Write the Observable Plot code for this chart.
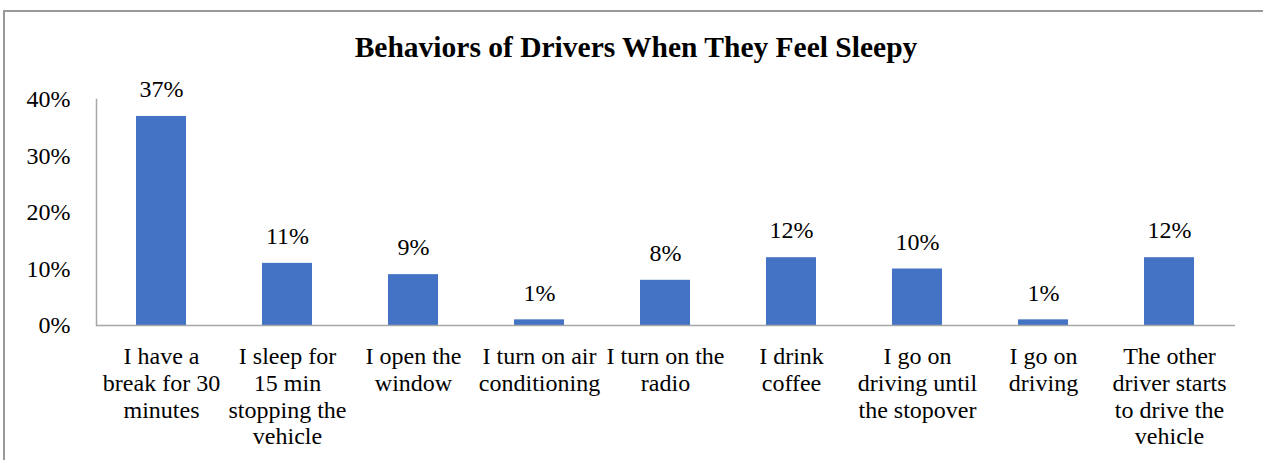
<!DOCTYPE html>
<html>
<head>
<meta charset="utf-8">
<script src="https://cdn.jsdelivr.net/npm/d3@7"></script>
<script src="https://cdn.jsdelivr.net/npm/@observablehq/plot@0.6"></script>
<style>
  html, body { margin: 0; padding: 0; background: #fff; }
  #wrap { position: relative; width: 1263px; height: 460px; overflow: hidden; }
  #border { position: absolute; left: 3px; top: 10px; width: 1400px; height: 600px;
            border-left: 2px solid #999; border-top: 2px solid #999; }
  #title { position: absolute; left: 0; width: 1272px; top: 31px; text-align: center;
           font-family: "Liberation Serif", serif; font-weight: bold; font-size: 29.5px; color: #000; }
  #chart { position: absolute; left: 0; top: 0; }
</style>
</head>
<body>
<div id="wrap">
  <div id="border"></div>
  <div id="chart"></div>
  <div id="title">Behaviors of Drivers When They Feel Sleepy</div>
</div>
<script>
const categories = [
  "I have a\nbreak for 30\nminutes",
  "I sleep for\n15 min\nstopping the\nvehicle",
  "I open the\nwindow",
  "I turn on air\nconditioning",
  "I turn on the\nradio",
  "I drink\ncoffee",
  "I go on\ndriving until\nthe stopover",
  "I go on\ndriving",
  "The other\ndriver starts\nto drive the\nvehicle"
];
const values = [0.37, 0.11, 0.09, 0.01, 0.08, 0.12, 0.10, 0.01, 0.12];
const yTicks = [0, 0.1, 0.2, 0.3, 0.4];

const data = categories.map((c, i) => ({category: c, value: values[i]}));
const pct = d3.format(".0%");
const serif = "Liberation Serif";

const chart = Plot.plot({
  width: 1263,
  height: 460,
  marginLeft: 96,
  marginRight: 28,
  marginTop: 99,
  marginBottom: 135,
  style: {fontSize: "24px", color: "#000", background: "transparent"},
  x: {domain: categories, paddingInner: 0.6, paddingOuter: 0.3, axis: null},
  y: {domain: [0, 0.4], axis: null},
  marks: [
    Plot.barY(data, {x: "category", y: "value", fill: "#4472C4"}),
    Plot.ruleY([0], {stroke: "#A6A6A6", strokeWidth: 1.5}),
    Plot.frame({anchor: "left", stroke: "#A6A6A6", strokeWidth: 1.5}),
    Plot.axisY({ticks: yTicks, tickSize: 0, tickPadding: 26, tickFormat: pct, fontSize: 24, fontFamily: serif, label: null}),
    Plot.axisX({tickSize: 0, tickPadding: 20, fontSize: 24, fontFamily: serif, lineHeight: 1.11, label: null}),
    Plot.text(data, {x: "category", y: "value", text: d => pct(d.value), dy: -27, fontSize: 24, fontFamily: serif, fill: "#000"})
  ]
});
document.getElementById("chart").appendChild(chart);
</script>
</body>
</html>
